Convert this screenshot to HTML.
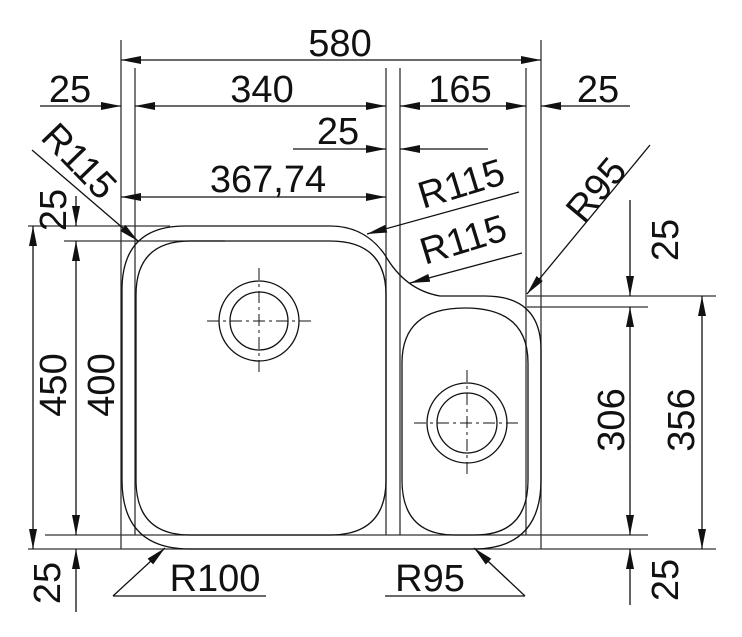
<!DOCTYPE html>
<html><head><meta charset="utf-8"><style>
html,body{margin:0;padding:0;background:#fff;}
svg{display:block;}
text{font-family:"Liberation Sans",Arial,sans-serif;font-size:38px;fill:#111;}
</style></head><body>
<svg width="742" height="637" viewBox="0 0 742 637" xmlns="http://www.w3.org/2000/svg">
<defs>
<marker id="a" viewBox="0 0 20 8" refX="20" refY="4" markerWidth="20" markerHeight="8" markerUnits="userSpaceOnUse" orient="auto-start-reverse">
<path d="M0,0 L20,4 L0,8 z" fill="#111"/></marker>
</defs>
<g stroke="#333" stroke-width="1.3" fill="none">
<line x1="121" y1="40" x2="121" y2="549"/>
<line x1="135" y1="68" x2="135" y2="535"/>
<line x1="386" y1="68" x2="386" y2="535"/>
<line x1="400" y1="68" x2="400" y2="535"/>
<line x1="526" y1="68" x2="526" y2="535"/>
<line x1="541" y1="40" x2="541" y2="549"/>
<line x1="28" y1="226" x2="170" y2="226"/>
<line x1="64" y1="241" x2="225" y2="241"/>
<line x1="28" y1="549" x2="716" y2="549"/>
<line x1="45" y1="535" x2="648" y2="535"/>
<line x1="527" y1="296" x2="716" y2="296"/>
<line x1="527" y1="307" x2="648" y2="307"/>
</g>
<g stroke="#111" stroke-width="1.3" fill="none">
<line x1="121" y1="60" x2="541" y2="60" marker-start="url(#a)" marker-end="url(#a)"/>
<line x1="135" y1="106" x2="386" y2="106" marker-start="url(#a)" marker-end="url(#a)"/>
<line x1="40" y1="106" x2="121" y2="106" marker-end="url(#a)"/>
<line x1="400" y1="106" x2="526" y2="106" marker-start="url(#a)" marker-end="url(#a)"/>
<line x1="630" y1="106" x2="541" y2="106" marker-end="url(#a)"/>
<line x1="293" y1="149" x2="386" y2="149" marker-end="url(#a)"/>
<line x1="488" y1="149" x2="400" y2="149" marker-end="url(#a)"/>
<line x1="121" y1="197" x2="386" y2="197" marker-start="url(#a)" marker-end="url(#a)"/>
<line x1="33" y1="226" x2="33" y2="549" marker-start="url(#a)" marker-end="url(#a)"/>
<line x1="76" y1="241" x2="76" y2="535" marker-start="url(#a)" marker-end="url(#a)"/>
<line x1="76" y1="196" x2="76" y2="226" marker-end="url(#a)"/>
<line x1="76" y1="612" x2="76" y2="549" marker-end="url(#a)"/>
<line x1="630" y1="200" x2="630" y2="296" marker-end="url(#a)"/>
<line x1="630" y1="307" x2="630" y2="535" marker-start="url(#a)" marker-end="url(#a)"/>
<line x1="630" y1="605" x2="630" y2="549" marker-end="url(#a)"/>
<line x1="702" y1="296" x2="702" y2="549" marker-start="url(#a)" marker-end="url(#a)"/>
<line x1="32" y1="150" x2="138" y2="241" marker-end="url(#a)"/>
<line x1="519" y1="192" x2="367" y2="234" marker-end="url(#a)"/>
<line x1="522" y1="253" x2="410" y2="283" marker-end="url(#a)"/>
<line x1="650" y1="145" x2="527" y2="294" marker-end="url(#a)"/>
<polyline points="266,596 113,596"/>
<line x1="113" y1="596" x2="165" y2="548" marker-end="url(#a)"/>
<polyline points="385,596 525,596"/>
<line x1="525" y1="596" x2="474" y2="548" marker-end="url(#a)"/>
<path d="M190,549 Q122,549 122,480 L122,290 Q122,226 185,226 L330,226 Q365,226 385,255 Q405,290 440,296 L485,296 Q541,296 541,350 L541,480 Q541,549 473,549 Z"/>
<path d="M190,535 Q136,535 136,480 L136,295 Q136,241 190,241 L330,241 Q386,241 386,295 L386,480 Q386,535 330,535 Z"/>
<path d="M455,535 Q402,535 402,480 L402,363 Q402,308 465,308 Q528,308 528,363 L528,480 Q528,535 475,535 Z"/>
<circle cx="259" cy="321" r="40"/><circle cx="259" cy="321" r="29"/>
<circle cx="467" cy="423" r="40"/><circle cx="467" cy="423" r="30"/>
</g>
<g stroke="#111" stroke-width="1" stroke-dasharray="12,4,3,4">
<line x1="207" y1="321" x2="312" y2="321"/><line x1="259" y1="268" x2="259" y2="374"/>
<line x1="414" y1="423" x2="520" y2="423"/><line x1="467" y1="370" x2="467" y2="475"/>
</g>
<text x="340" y="56" text-anchor="middle">580</text>
<text x="70" y="102" text-anchor="middle">25</text>
<text x="262" y="102" text-anchor="middle">340</text>
<text x="460" y="102" text-anchor="middle">165</text>
<text x="598" y="102" text-anchor="middle">25</text>
<text x="338" y="144" text-anchor="middle">25</text>
<text x="268" y="192" text-anchor="middle">367,74</text>
<text transform="translate(70,170) rotate(46)" text-anchor="middle">R115</text>
<text transform="translate(66,210) rotate(-90)" text-anchor="middle">25</text>
<text transform="translate(465,196) rotate(-17)" text-anchor="middle">R115</text>
<text transform="translate(467,252) rotate(-17)" text-anchor="middle">R115</text>
<text transform="translate(606,198) rotate(-50)" text-anchor="middle">R95</text>
<text transform="translate(678,240) rotate(-90)" text-anchor="middle">25</text>
<text transform="translate(66,385) rotate(-90)" text-anchor="middle">450</text>
<text transform="translate(114,385) rotate(-90)" text-anchor="middle">400</text>
<text transform="translate(624,420) rotate(-90)" text-anchor="middle">306</text>
<text transform="translate(694,420) rotate(-90)" text-anchor="middle">356</text>
<text transform="translate(60,583) rotate(-90)" text-anchor="middle">25</text>
<text transform="translate(678,580) rotate(-90)" text-anchor="middle">25</text>
<text x="215" y="591" text-anchor="middle">R100</text>
<text x="430" y="591" text-anchor="middle">R95</text>
</svg>
</body></html>
